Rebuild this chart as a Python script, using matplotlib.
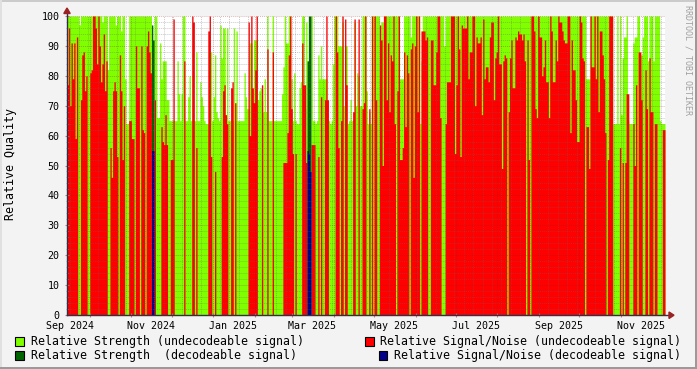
import numpy as np
import matplotlib
matplotlib.use('Agg')
import matplotlib.pyplot as plt
import matplotlib.dates as mdates
from matplotlib.patches import Polygon, Rectangle
from matplotlib.lines import Line2D
from matplotlib.ticker import FixedLocator, FixedFormatter, NullFormatter

# daily values, first day = 2024-09-14, 0 = no sample
start_day = np.datetime64('2024-09-14')

strength_undec = [
    100, 100, 100, 100, 100, 100, 100, 100, 100, 97,
    100, 100, 100, 100, 100, 100, 100, 100, 100, 100,
    100, 100, 100, 100, 100, 100, 98, 100, 100, 100,
    82, 100, 100, 100, 100, 100, 97, 100, 100, 100,
    95, 100, 100, 79, 64, 64, 100, 100, 100, 100,
    100, 100, 100, 100, 100, 100, 100, 100, 100, 100,
    100, 100, 100, 0, 0, 100, 100, 66, 66, 91,
    79, 85, 85, 85, 72, 72, 65, 65, 65, 65,
    65, 65, 85, 74, 65, 74, 100, 100, 65, 65,
    73, 80, 65, 65, 65, 65, 88, 65, 65, 78,
    73, 70, 65, 64, 64, 64, 64, 88, 65, 73,
    87, 68, 66, 65, 97, 86, 96, 96, 65, 96,
    65, 65, 65, 65, 96, 65, 95, 65, 65, 65,
    65, 65, 81, 73, 69, 69, 91, 91, 71, 92,
    92, 92, 72, 75, 76, 72, 68, 79, 68, 100,
    65, 65, 65, 100, 65, 65, 65, 65, 65, 65,
    74, 83, 100, 91, 91, 100, 100, 79, 65, 81,
    65, 64, 64, 76, 78, 100, 100, 69, 98, 0,
    0, 0, 100, 65, 65, 64, 65, 87, 79, 90,
    79, 79, 79, 79, 65, 65, 64, 65, 84, 100,
    100, 100, 90, 90, 90, 98, 70, 90, 90, 64,
    65, 72, 65, 65, 98, 70, 81, 80, 70, 70,
    100, 100, 100, 75, 64, 68, 64, 100, 100, 100,
    100, 100, 100, 79, 98, 98, 100, 100, 100, 100,
    100, 100, 100, 100, 100, 100, 100, 100, 79, 79,
    79, 100, 100, 100, 100, 100, 93, 100, 100, 100,
    100, 100, 100, 64, 85, 100, 100, 100, 100, 100,
    100, 100, 100, 100, 100, 100, 100, 100, 100, 100,
    100, 90, 100, 100, 100, 100, 100, 100, 100, 100,
    100, 100, 100, 100, 100, 100, 100, 100, 100, 100,
    100, 100, 100, 100, 100, 100, 100, 100, 100, 100,
    100, 100, 100, 100, 100, 100, 100, 100, 100, 100,
    100, 100, 100, 100, 100, 100, 100, 100, 100, 100,
    100, 100, 100, 100, 100, 100, 100, 100, 100, 100,
    100, 100, 100, 100, 100, 100, 100, 100, 100, 100,
    100, 100, 100, 100, 100, 100, 100, 100, 100, 100,
    100, 100, 100, 100, 100, 100, 100, 100, 100, 100,
    100, 100, 100, 100, 100, 100, 100, 100, 100, 100,
    100, 100, 100, 100, 100, 100, 100, 79, 79, 79,
    100, 100, 100, 100, 100, 100, 100, 100, 100, 100,
    100, 100, 100, 100, 100, 100, 100, 64, 64, 64,
    100, 64, 100, 67, 86, 93, 93, 100, 65, 64,
    64, 64, 91, 93, 93, 100, 100, 87, 87, 93,
    100, 100, 100, 85, 100, 100, 100, 85, 100, 100,
    100, 100, 65, 64, 64, 64,
]

snr_undec = [
    77, 96, 70, 91, 79, 91, 59, 93, 0, 0,
    72, 87, 88, 75, 80, 0, 0, 81, 82, 100,
    100, 96, 84, 100, 90, 78, 84, 94, 75, 85,
    0, 0, 56, 46, 75, 78, 75, 53, 0, 87,
    75, 52, 70, 0, 0, 0, 65, 65, 59, 59,
    0, 90, 76, 76, 0, 90, 62, 61, 0, 90,
    95, 88, 81, 0, 0, 72, 0, 0, 0, 0,
    63, 58, 57, 67, 57, 0, 0, 52, 52, 99,
    0, 0, 0, 0, 0, 0, 0, 85, 0, 0,
    0, 0, 0, 100, 98, 0, 56, 0, 0, 0,
    0, 0, 0, 0, 0, 95, 100, 53, 0, 0,
    48, 0, 0, 0, 0, 53, 75, 77, 67, 64,
    0, 0, 76, 78, 0, 71, 0, 0, 0, 0,
    0, 0, 0, 0, 0, 98, 60, 100, 76, 71,
    82, 100, 0, 0, 0, 77, 0, 0, 0, 89,
    0, 0, 0, 88, 0, 0, 0, 0, 0, 0,
    0, 51, 51, 51, 61, 87, 100, 69, 54, 0,
    54, 0, 0, 0, 0, 91, 77, 77, 51, 0,
    0, 0, 57, 57, 57, 0, 0, 53, 0, 73,
    0, 0, 72, 100, 72, 0, 0, 0, 0, 0,
    100, 88, 56, 0, 65, 100, 0, 99, 77, 0,
    0, 0, 0, 68, 99, 0, 0, 99, 0, 0,
    69, 71, 100, 0, 0, 69, 0, 100, 0, 100,
    72, 0, 0, 97, 92, 50, 100, 100, 72, 91,
    68, 87, 85, 100, 64, 0, 75, 100, 52, 52,
    56, 88, 63, 87, 81, 0, 89, 91, 46, 90,
    100, 68, 100, 0, 95, 95, 95, 92, 93, 0,
    0, 92, 92, 77, 77, 88, 100, 100, 66, 0,
    0, 0, 64, 78, 78, 78, 100, 100, 100, 54,
    77, 100, 89, 53, 97, 96, 96, 96, 100, 79,
    88, 88, 100, 100, 70, 93, 91, 91, 93, 67,
    99, 79, 83, 83, 78, 93, 98, 98, 72, 86,
    88, 100, 84, 84, 49, 85, 87, 86, 0, 68,
    86, 92, 76, 76, 93, 92, 95, 94, 94, 92,
    94, 85, 0, 92, 52, 0, 100, 100, 95, 69,
    66, 100, 93, 93, 80, 83, 92, 78, 78, 66,
    100, 95, 78, 78, 92, 85, 100, 98, 98, 95,
    92, 91, 91, 100, 100, 61, 92, 82, 82, 72,
    58, 58, 100, 98, 86, 85, 0, 63, 63, 49,
    100, 83, 83, 100, 79, 100, 68, 95, 95, 87,
    79, 61, 0, 52, 100, 100, 100, 0, 0, 0,
    0, 0, 56, 0, 51, 0, 51, 74, 74, 0,
    0, 0, 64, 50, 77, 0, 88, 88, 72, 0,
    0, 82, 69, 0, 86, 68, 68, 0, 64, 64,
    0, 0, 0, 0, 62, 62,
]

# the few days with a decodeable signal
dec_days = [63, 64, 179, 180, 181]
strength_dec = [97, 92, 85, 100, 100]
snr_dec = [55, 55, 55, 54, 48]

month_labels = ['Sep 2024', 'Nov 2024', 'Jan 2025', 'Mar 2025',
                'May 2025', 'Jul 2025', 'Sep 2025', 'Nov 2025']
label_dates = ['2024-09-16', '2024-11-16', '2025-01-16', '2025-03-16',
               '2025-05-16', '2025-07-16', '2025-09-16', '2025-11-16']
legend_labels = ['Relative Strength (undecodeable signal)',
                 'Relative Signal/Noise (undecodeable signal)',
                 'Relative Strength  (decodeable signal)',
                 'Relative Signal/Noise (decodeable signal)']
colors = ['#7fff00', '#ff0000', '#006400', '#00008b']

W, H = 697, 369
MONO = 'DejaVu Sans Mono'


def fx(px):
    return px / W


def fy(py):
    return 1 - py / H


fig = plt.figure(figsize=(W / 100, H / 100), dpi=100, facecolor='#f3f3f3')
ax = fig.add_axes([fx(67), fy(315), fx(665) - fx(67), fy(16) - fy(315)])
ax.set_facecolor('white')

n = len(strength_undec)
edges = mdates.date2num(start_day + np.arange(n + 1).astype('timedelta64[D]'))

dk = np.zeros(n)
dk[dec_days] = strength_dec
bl = np.zeros(n)
bl[dec_days] = snr_dec

series = [np.array(strength_undec, float), np.array(snr_undec[:n], float), dk, bl]
for i, vals in enumerate(series):
    ax.fill_between(edges, np.append(vals, vals[-1]), step='post',
                    color=colors[i], linewidth=0, zorder=1 + i * 0.1)

ax.set_xlim(edges[0], edges[-1])
ax.set_ylim(0, 100)

# grid, drawn on top like rrdtool does
minor_c = (0.4, 0.4, 0.4, 0.35)
major_c = (0.6, 0.1, 0.1, 0.32)
dots = (0, (1, 1))
mondays = np.arange(np.datetime64('2024-09-16'), start_day + n, 7)
for m in mdates.date2num(mondays):
    ax.axvline(m, color=minor_c, lw=0.7, ls=dots, zorder=3)
month_starts = np.arange(np.datetime64('2024-10'), np.datetime64('2025-12'),
                         1).astype('datetime64[D]')
month_nums = mdates.date2num(month_starts)
for m in month_nums:
    ax.axvline(m, color=major_c, lw=0.7, ls=dots, zorder=3)
for yv in range(2, 101, 2):
    ax.axhline(yv, color=major_c if yv % 10 == 0 else minor_c,
               lw=0.7, ls=dots, zorder=3)

for s in ax.spines.values():
    s.set_visible(False)

ax.xaxis.set_major_locator(FixedLocator(month_nums))
ax.xaxis.set_major_formatter(NullFormatter())
ax.xaxis.set_minor_locator(FixedLocator(mdates.date2num(np.array(label_dates, dtype='datetime64[D]'))))
ax.xaxis.set_minor_formatter(FixedFormatter(month_labels))
ax.tick_params(axis='x', which='major', length=3, direction='inout', color='#c08080', width=0.8)
ax.tick_params(axis='x', which='minor', length=0, pad=4.5, labelsize=7.2)

ax.set_yticks(range(0, 101, 10))
ax.set_yticks(range(0, 101, 2), minor=True)
ax.tick_params(axis='y', which='major', length=3, direction='inout', color='#c08080',
               width=0.8, pad=4, labelsize=7.2)
ax.tick_params(axis='y', which='minor', length=1.5, direction='inout', color='#b0b0b0', width=0.6)
for lab in ax.get_xticklabels(minor=True) + ax.get_yticklabels():
    lab.set_fontfamily(MONO)

# axis lines and arrows
fig.add_artist(Line2D([fx(67), fx(670)], [fy(315), fy(315)], color='#303048', lw=1, zorder=5))
fig.add_artist(Line2D([fx(67), fx(67)], [fy(315), fy(10)], color='#303048', lw=1, zorder=5))
arrow_c = '#9b2222'
fig.add_artist(Polygon([[fx(669), fy(312)], [fx(669), fy(318.5)], [fx(674), fy(315.2)]],
                       closed=True, color=arrow_c, zorder=6))
fig.add_artist(Polygon([[fx(63.8), fy(13.5)], [fx(70.2), fy(13.5)], [fx(67), fy(8)]],
                       closed=True, color=arrow_c, zorder=6))

fig.text(fx(11), fy(164), 'Relative Quality', rotation=90, ha='center', va='center',
         fontsize=8.35, family=MONO)
fig.text(fx(688), fy(5), 'RRDTOOL / TOBI OETIKER', rotation=270, ha='center', va='top',
         fontsize=6, family=MONO, color='#a0a0a0')

# legend
legend_pos = [(15, 337, 30.5, 341.5), (365, 337, 380, 341.5),
              (15, 351, 30.5, 355.5), (379, 351, 394, 355.5)]
for (sx, sy, tx, ty), lab, c in zip(legend_pos, legend_labels, colors):
    fig.add_artist(Rectangle((fx(sx), fy(sy + 8.5)), fx(8.5), 8.5 / H,
                             facecolor=c, edgecolor='black', lw=0.8))
    fig.text(fx(tx), fy(ty), lab, ha='left', va='center', fontsize=8.35, family=MONO)

# rrdtool style frame
fig.add_artist(Rectangle((0, fy(1.5)), 1, 1.5 / H, color='#cbcbcb', lw=0))
fig.add_artist(Rectangle((0, 0), fx(1.5), 1, color='#e0e0e0', lw=0))
fig.add_artist(Rectangle((0, 0), 1, 2.5 / H, color='#9a9a9a', lw=0))
fig.add_artist(Rectangle((fx(694.5), 0), fx(2.5), 1, color='#9a9a9a', lw=0))

fig.savefig('out.png', dpi=100, facecolor=fig.get_facecolor())
